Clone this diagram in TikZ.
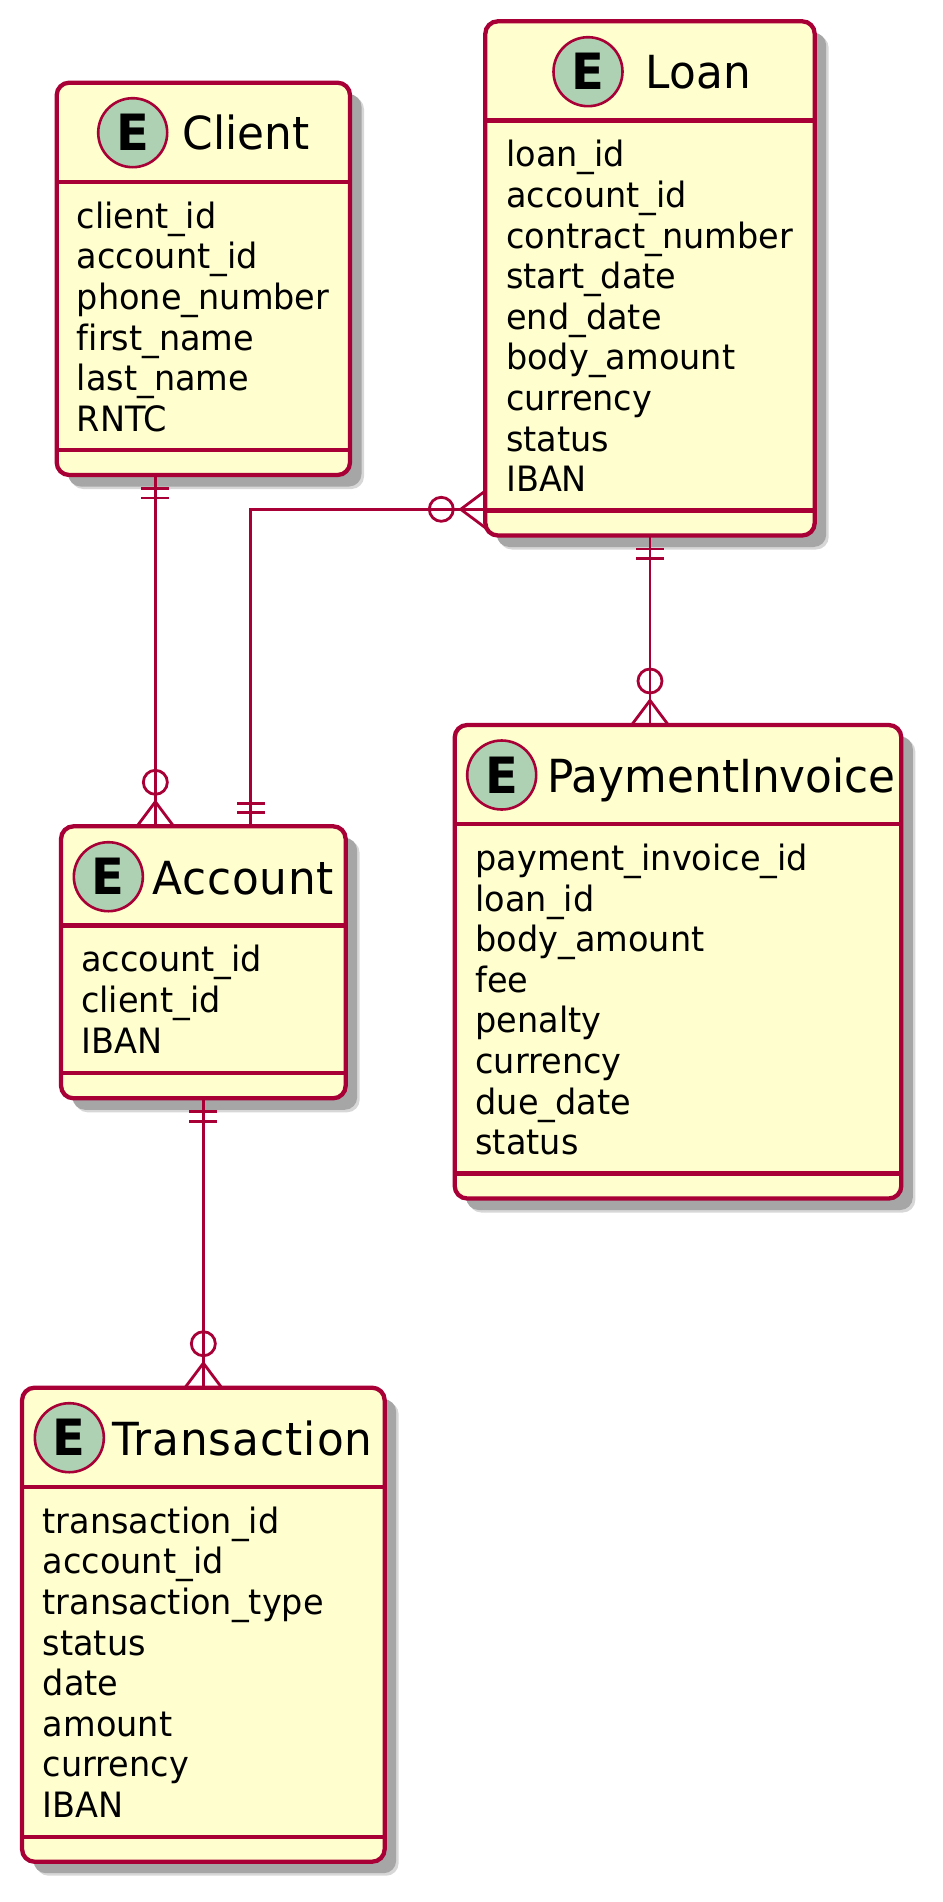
\documentclass[tikz,border=0pt]{standalone}
\usepackage{fontspec}
\setmainfont[FakeStretch=0.96,Ligatures=NoCommon]{DejaVu Sans}
\usetikzlibrary{positioning,shadows}
\definecolor{umlline}{HTML}{A80036}
\definecolor{umlfill}{HTML}{FEFECE}
\definecolor{umlspot}{HTML}{ADD1B2}
\definecolor{umlshadow}{HTML}{A6A6A6}
\tikzset{
 entity/.style={draw=umlline, fill=umlfill, line width=4.3pt, rounded corners=12.5pt, outer sep=0pt, inner sep=0pt,
  general shadow={shadow xshift=14pt, shadow yshift=-14pt, fill=umlshadow!45},
  general shadow={shadow xshift=11.5pt, shadow yshift=-11.5pt, fill=umlshadow}},
 spot/.style={circle, draw=umlline, fill=umlspot, line width=2.6pt, minimum size=69pt, inner sep=0pt, font=\fontsize{50}{50}\selectfont\bfseries},
 title/.style={inner sep=0pt, anchor=base west, font=\fontsize{45.6}{50}\selectfont},
 fields/.style={inner sep=0pt, align=left, font=\fontsize{34.9}{40.6}\selectfont},
 rule/.style={draw=umlline, line width=4.3pt},
 link/.style={draw=umlline, line width=2.8pt},
 onemark/.pic={\draw [link] (-14,-13.5) -- (14,-13.5) (-14,-23) -- (14,-23);},
 manymark/.pic={\draw [link] (-18.4,0) -- (0,-24.6) -- (18.4,0) (0,-44) circle (12);}
}
\begin{document}
\begin{tikzpicture}[x=1pt, y=1pt]
 \useasboundingbox (0,0) rectangle (942,-1902);
 \node [entity, minimum width=293.3pt, minimum height=392.3pt] (client) at (203.35,-278.85) {};
 \node [entity, minimum width=329.4pt, minimum height=514.2pt, right=135.3pt of client.north east, anchor=north west, yshift=61.4pt] (loan) {};
 \node [entity, minimum width=284.6pt, minimum height=272pt, below=351.3pt of client.south] (account) {};
 \node [entity, minimum width=446.6pt, minimum height=473.5pt, below=189.5pt of loan.south, xshift=28pt] (invoice) {};
 \node [entity, minimum width=362.6pt, minimum height=474pt, below=289.4pt of account.south] (transaction) {};

 \draw [rule] ([yshift=-99.3pt]client.north west) -- ([yshift=-99.3pt]client.north east);
 \draw [rule] ([yshift=25pt]client.south west) -- ([yshift=25pt]client.south east);
 \draw [rule] ([yshift=-99.3pt]loan.north west) -- ([yshift=-99.3pt]loan.north east);
 \draw [rule] ([yshift=25pt]loan.south west) -- ([yshift=25pt]loan.south east);
 \draw [rule] ([yshift=-99.3pt]account.north west) -- ([yshift=-99.3pt]account.north east);
 \draw [rule] ([yshift=25pt]account.south west) -- ([yshift=25pt]account.south east);
 \draw [rule] ([yshift=-99.3pt]invoice.north west) -- ([yshift=-99.3pt]invoice.north east);
 \draw [rule] ([yshift=25pt]invoice.south west) -- ([yshift=25pt]invoice.south east);
 \draw [rule] ([yshift=-99.3pt]transaction.north west) -- ([yshift=-99.3pt]transaction.north east);
 \draw [rule] ([yshift=25pt]transaction.south west) -- ([yshift=25pt]transaction.south east);

 \node [spot, below right=50pt and 76pt of client.north west, anchor=center] (clientspot) {E};
 \node [spot, below right=50.4pt and 102.7pt of loan.north west, anchor=center] (loanspot) {E};
 \node [spot, below right=50.4pt and 47.3pt of account.north west, anchor=center] (accountspot) {E};
 \node [spot, below right=50pt and 47pt of invoice.north west, anchor=center] (invoicespot) {E};
 \node [spot, below right=50pt and 47.3pt of transaction.north west, anchor=center] (transactionspot) {E};

 \node [title, right=49.8pt of clientspot.center, yshift=-17.3pt, anchor=base west] (clienttitle) {Client};
 \node [title, right=57.6pt of loanspot.center, yshift=-17.3pt, anchor=base west] (loantitle) {Loan};
 \node [title, right=44pt of accountspot.center, yshift=-17.3pt, anchor=base west] (accounttitle) {\addfontfeature{LetterSpace=1.6}Account};
 \node [title, right=45.6pt of invoicespot.center, yshift=-17.3pt, anchor=base west] (invoicetitle) {PaymentInvoice};
 \node [title, right=42.5pt of transactionspot.center, yshift=-17.3pt, anchor=base west] (transactiontitle) {\addfontfeature{LetterSpace=2.2}Transaction};

 \node [fields, below right=118.8pt and 20pt of client.north west] (clientfields) {client\_id\\account\_id\\phone\_number\\first\_name\\last\_name\\RNTC};
 \node [fields, below right=118.8pt and 20.7pt of loan.north west] (loanfields) {loan\_id\\account\_id\\contract\_number\\start\_date\\end\_date\\body\_amount\\currency\\status\\IBAN};
 \node [fields, below right=118.8pt and 20pt of account.north west] (accountfields) {account\_id\\client\_id\\IBAN};
 \node [fields, below right=118.8pt and 20.6pt of invoice.north west] (invoicefields) {payment\_invoice\_id\\loan\_id\\body\_amount\\fee\\penalty\\currency\\due\_date\\status};
 \node [fields, below right=118.8pt and 20.6pt of transaction.north west] (transactionfields) {transaction\_id\\account\_id\\transaction\_type\\status\\date\\amount\\currency\\IBAN};

 \draw [link] ([xshift=-48pt]client.south) -- ([xshift=-48pt]account.north);
 \draw [link] ([xshift=47.3pt]account.north) |- ([yshift=-230.9pt]loan.west);
 \draw [link] (loan.south) -- ([xshift=-28pt]invoice.north);
 \draw [link] (account.south) -- (transaction.north);

 \pic at ([xshift=-48pt]client.south) {onemark};
 \pic [rotate=180] at ([xshift=-48pt]account.north) {manymark};
 \pic [rotate=180] at ([xshift=47.3pt]account.north) {onemark};
 \pic [rotate=-90] at ([yshift=-230.9pt]loan.west) {manymark};
 \pic at (loan.south) {onemark};
 \pic [rotate=180] at ([xshift=-28pt]invoice.north) {manymark};
 \pic at (account.south) {onemark};
 \pic [rotate=180] at (transaction.north) {manymark};
\end{tikzpicture}
\end{document}
